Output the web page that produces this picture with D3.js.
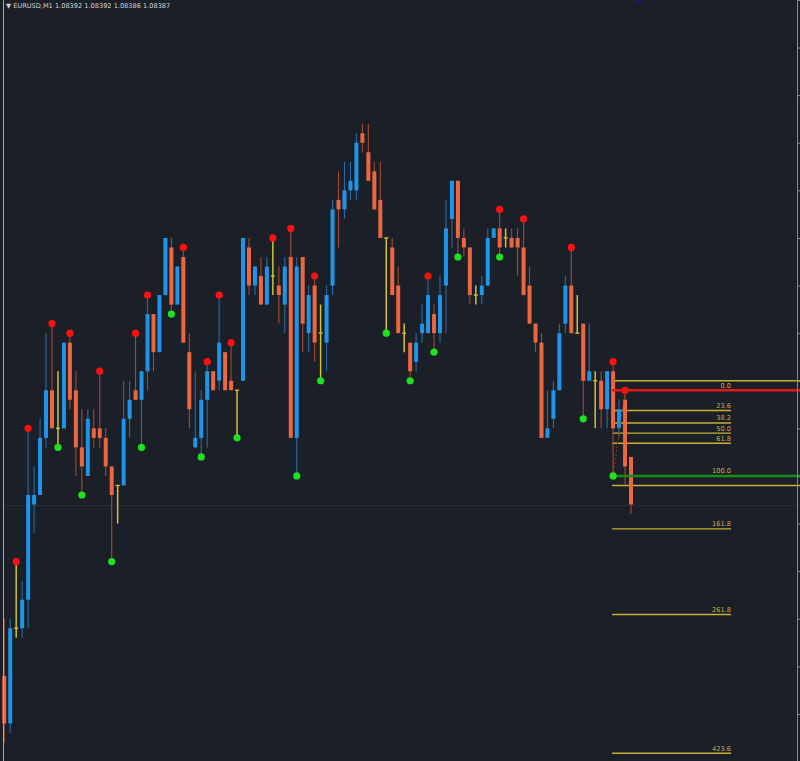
<!DOCTYPE html>
<html>
<head>
<meta charset="utf-8">
<script src="https://cdn.jsdelivr.net/npm/d3@7/dist/d3.min.js"></script>
<style>
  html, body { margin: 0; padding: 0; background: #1b1f28; }
  svg { display: block; }
</style>
</head>
<body>
<svg id="chart" width="800" height="761"></svg>
<script>
// ---- data (EURUSD, M1) ----
const symbol = "EURUSD,M1";
const lastQuote = ["1.08392", "1.08392", "1.08386", "1.08387"];
const opens = [1.08369,1.08364,1.08374,1.08374,1.08377,1.08387,1.08388,1.08394,1.08399,1.08395,
  1.08395,1.08404,1.08399,1.08393,1.08390,1.08395,1.08395,1.08394,1.08391,1.08389,
  1.08389,1.08396,1.08399,1.08398,1.08401,1.08407,1.08403,1.08409,1.08414,1.08408,
  1.08413,1.08403,1.08393,1.08394,1.08398,1.08401,1.08400,1.08403,1.08400,1.08399,
  1.08400,1.08414,1.08410,1.08411,1.08408,1.08411,1.08410,1.08408,1.08413,1.08394,
  1.08413,1.08405,1.08410,1.08405,1.08404,1.08410,1.08419,1.08418,1.08420,1.08420,
  1.08426,1.08424,1.08422,1.08419,1.08415,1.08414,1.08410,1.08405,1.08404,1.08402,
  1.08405,1.08405,1.08407,1.08405,1.08410,1.08417,1.08421,1.08415,1.08414,1.08409,
  1.08409,1.08410,1.08415,1.08416,1.08415,1.08415,1.08415,1.08414,1.08410,1.08406,
  1.08404,1.08394,1.08396,1.08399,1.08406,1.08410,1.08405,1.08406,1.08400,1.08400,
  1.08400,1.08397,1.08401,1.08395,1.08398,1.08392];
const highs = [1.08375,1.08375,1.08381,1.08379,1.08395,1.08391,1.08396,1.08405,1.08406,1.08401,
  1.08404,1.08405,1.08401,1.08397,1.08397,1.08397,1.08401,1.08395,1.08391,1.08389,
  1.08400,1.08400,1.08405,1.08401,1.08409,1.08407,1.08409,1.08415,1.08415,1.08412,
  1.08414,1.08405,1.08401,1.08399,1.08402,1.08401,1.08409,1.08403,1.08404,1.08399,
  1.08415,1.08415,1.08412,1.08413,1.08413,1.08415,1.08412,1.08413,1.08416,1.08413,
  1.08413,1.08410,1.08411,1.08408,1.08410,1.08419,1.08422,1.08423,1.08423,1.08426,
  1.08427,1.08427,1.08423,1.08423,1.08415,1.08415,1.08412,1.08406,1.08404,1.08405,
  1.08408,1.08411,1.08408,1.08411,1.08419,1.08421,1.08421,1.08416,1.08414,1.08410,
  1.08411,1.08416,1.08416,1.08418,1.08416,1.08416,1.08416,1.08417,1.08412,1.08406,
  1.08405,1.08399,1.08400,1.08406,1.08411,1.08414,1.08409,1.08406,1.08406,1.08401,
  1.08401,1.08401,1.08402,1.08398,1.08399,1.08392];
const lows = [1.08362,1.08363,1.08373,1.08373,1.08374,1.08384,1.08388,1.08393,1.08395,1.08393,
  1.08395,1.08397,1.08390,1.08388,1.08390,1.08393,1.08393,1.08390,1.08381,1.08385,
  1.08389,1.08394,1.08398,1.08393,1.08399,1.08401,1.08403,1.08409,1.08407,1.08408,
  1.08404,1.08395,1.08393,1.08392,1.08393,1.08399,1.08399,1.08399,1.08399,1.08394,
  1.08400,1.08409,1.08409,1.08408,1.08408,1.08409,1.08406,1.08405,1.08394,1.08390,
  1.08403,1.08403,1.08402,1.08400,1.08401,1.08409,1.08414,1.08417,1.08419,1.08419,
  1.08424,1.08421,1.08418,1.08415,1.08405,1.08409,1.08405,1.08403,1.08400,1.08401,
  1.08404,1.08405,1.08403,1.08404,1.08405,1.08414,1.08413,1.08413,1.08408,1.08408,
  1.08408,1.08410,1.08415,1.08413,1.08414,1.08414,1.08411,1.08409,1.08406,1.08403,
  1.08394,1.08394,1.08395,1.08399,1.08405,1.08405,1.08405,1.08396,1.08400,1.08395,
  1.08395,1.08395,1.08390,1.08394,1.08389,1.08386];
const closes = [1.08364,1.08374,1.08374,1.08377,1.08388,1.08388,1.08394,1.08399,1.08395,1.08395,
  1.08404,1.08398,1.08393,1.08391,1.08396,1.08394,1.08394,1.08391,1.08388,1.08389,
  1.08396,1.08398,1.08398,1.08401,1.08407,1.08403,1.08409,1.08415,1.08408,1.08412,
  1.08404,1.08397,1.08394,1.08398,1.08401,1.08399,1.08404,1.08399,1.08399,1.08399,
  1.08415,1.08410,1.08412,1.08408,1.08412,1.08411,1.08409,1.08412,1.08394,1.08412,
  1.08406,1.08409,1.08404,1.08405,1.08409,1.08418,1.08418,1.08420,1.08421,1.08425,
  1.08425,1.08421,1.08418,1.08415,1.08415,1.08409,1.08405,1.08405,1.08401,1.08404,
  1.08406,1.08409,1.08405,1.08409,1.08416,1.08421,1.08415,1.08414,1.08409,1.08409,
  1.08410,1.08415,1.08416,1.08414,1.08415,1.08414,1.08414,1.08409,1.08406,1.08404,
  1.08394,1.08395,1.08399,1.08405,1.08410,1.08405,1.08405,1.08400,1.08401,1.08400,
  1.08397,1.08401,1.08395,1.08397,1.08391,1.08387];
// fractal markers (candle indices)
const upFractals = [2,4,8,11,16,22,24,30,34,36,38,45,48,52,71,83,87,95,102,104];
const downFractals = [9,13,18,23,28,33,39,49,53,64,68,72,76,83,97,102];
// Fibonacci retracement
const fibHigh = 1.08399, fibLow = 1.08390;
const fibLevels = [0, 23.6, 38.2, 50, 61.8, 100, 161.8, 261.8, 423.6];
const fibLabels = ["0.0","23.6","38.2","50.0","61.8","100.0","161.8","261.8","423.6"];
const yellowLevels = [1.08400, 1.08389];
const bidPrice = 1.08387;
const axisTicks = [];
for (let p = 108335; p <= 108465; p += 5) axisTicks.push(p / 100000);

// ---- drawing ----
const W = 800, H = 761;
const N = opens.length;
const svg = d3.select("#chart");
const x = d3.scaleLinear().domain([0, N - 1]).range([4.25, 631]);
const y = d3.scaleLinear().domain([1.08387, 1.08427]).range([504.5, 123.7]);

const C = {
  bg: "#1b1f28", up: "#1f95ea", down: "#ec6640", upWick: "#2c6aa6",
  downWick: "#a54a30", doji: "#d2c234", fib: "#c8b030", fibText: "#c8b240",
  red: "#ff1010", green: "#1ee21e"
};

svg.append("rect").attr("width", W).attr("height", H).attr("fill", C.bg);

// bid line
svg.append("line").attr("x1", 3).attr("x2", 798)
  .attr("y1", Math.round(y(bidPrice)) + 0.5).attr("y2", Math.round(y(bidPrice)) + 0.5)
  .attr("stroke", "#272c38").attr("stroke-width", 1);

// Fibonacci lines (behind candles)
const fibG = svg.append("g");
const fibPrice = l => fibHigh - l / 100 * (fibHigh - fibLow);
const fx0 = x(102) - 1, fx1 = 731;
fibG.selectAll("line.fib").data(fibLevels).join("line").attr("class", "fib")
  .attr("x1", fx0).attr("x2", fx1)
  .attr("y1", d => y(fibPrice(d))).attr("y2", d => y(fibPrice(d)))
  .attr("stroke", C.fib).attr("stroke-width", 1.4);
fibG.selectAll("text").data(fibLevels).join("text")
  .attr("x", fx1).attr("y", d => y(fibPrice(d)) - 2.5)
  .attr("text-anchor", "end").attr("fill", C.fibText)
  .attr("font-family", "DejaVu Sans, sans-serif").attr("font-size", 6.6)
  .text((d, i) => fibLabels[i]);
fibG.selectAll("line.yl").data(yellowLevels).join("line").attr("class", "yl")
  .attr("x1", fx0).attr("x2", 800)
  .attr("y1", d => y(d)).attr("y2", d => y(d))
  .attr("stroke", C.fib).attr("stroke-width", 1.4);

// candles
const candles = svg.append("g");
const idx = d3.range(N);
const kind = i => closes[i] > opens[i] ? "up" : (closes[i] < opens[i] ? "down" : "doji");
candles.selectAll("line.wick").data(idx).join("line").attr("class", "wick")
  .attr("x1", i => x(i)).attr("x2", i => x(i))
  .attr("y1", i => y(highs[i])).attr("y2", i => y(lows[i]))
  .attr("stroke", i => kind(i) === "up" ? C.upWick : kind(i) === "down" ? C.downWick : C.doji)
  .attr("stroke-width", i => kind(i) === "doji" ? 1.5 : 1.1);
candles.selectAll("rect.body").data(idx.filter(i => kind(i) !== "doji")).join("rect").attr("class", "body")
  .attr("x", i => x(i) - 2).attr("width", 4)
  .attr("y", i => y(Math.max(opens[i], closes[i])))
  .attr("height", i => Math.max(1, Math.abs(y(opens[i]) - y(closes[i]))))
  .attr("fill", i => kind(i) === "up" ? C.up : C.down);
candles.selectAll("line.dojiTick").data(idx.filter(i => kind(i) === "doji")).join("line").attr("class", "dojiTick")
  .attr("x1", i => x(i) - 2).attr("x2", i => x(i) + 2)
  .attr("y1", i => y(opens[i])).attr("y2", i => y(opens[i]))
  .attr("stroke", C.doji).attr("stroke-width", 1.4);

// Fibonacci trend line (dashed) + S/R lines
svg.append("line")
  .attr("x1", x(102)).attr("y1", y(fibLow)).attr("x2", x(104)).attr("y2", y(fibHigh))
  .attr("stroke", "#b02818").attr("stroke-width", 1).attr("stroke-dasharray", "2,2");
svg.append("line").attr("x1", x(102) - 1).attr("x2", 800)
  .attr("y1", y(fibHigh)).attr("y2", y(fibHigh))
  .attr("stroke", "#e01818").attr("stroke-width", 2.6);
svg.append("line").attr("x1", x(102)).attr("x2", 800)
  .attr("y1", y(fibLow)).attr("y2", y(fibLow))
  .attr("stroke", "#148c14").attr("stroke-width", 2.6);

// fractal dots
svg.append("g").selectAll("circle").data(upFractals).join("circle")
  .attr("cx", i => x(i)).attr("cy", i => y(highs[i])).attr("r", 3.6).attr("fill", C.red);
svg.append("g").selectAll("circle").data(downFractals).join("circle")
  .attr("cx", i => x(i)).attr("cy", i => y(lows[i])).attr("r", 3.6).attr("fill", C.green);

// borders and price-axis ticks
svg.append("line").attr("x1", 3.5).attr("x2", 3.5).attr("y1", 0).attr("y2", H)
  .attr("stroke", "#a8a8a8").attr("stroke-width", 1);
const axis = d3.axisRight(y).tickValues(axisTicks).tickSize(3).tickFormat("");
svg.append("g").attr("transform", "translate(797.5,0)").call(axis)
  .call(g => g.select(".domain").attr("stroke", "#8a8a8a").attr("d", `M0,0V${H}`))
  .call(g => g.selectAll(".tick line").attr("stroke", "#8a8a8a"));

// title
svg.append("text").attr("x", 6).attr("y", 8)
  .attr("fill", "#d4d4d4").attr("font-family", "DejaVu Sans, sans-serif").attr("font-size", 6.6)
  .text("\u25BC " + symbol + "  " + lastQuote.join(" "));

// small marker at top
svg.append("circle").attr("cx", 639).attr("cy", -1).attr("r", 4).attr("fill", "#1c1c66");
</script>
</body>
</html>
